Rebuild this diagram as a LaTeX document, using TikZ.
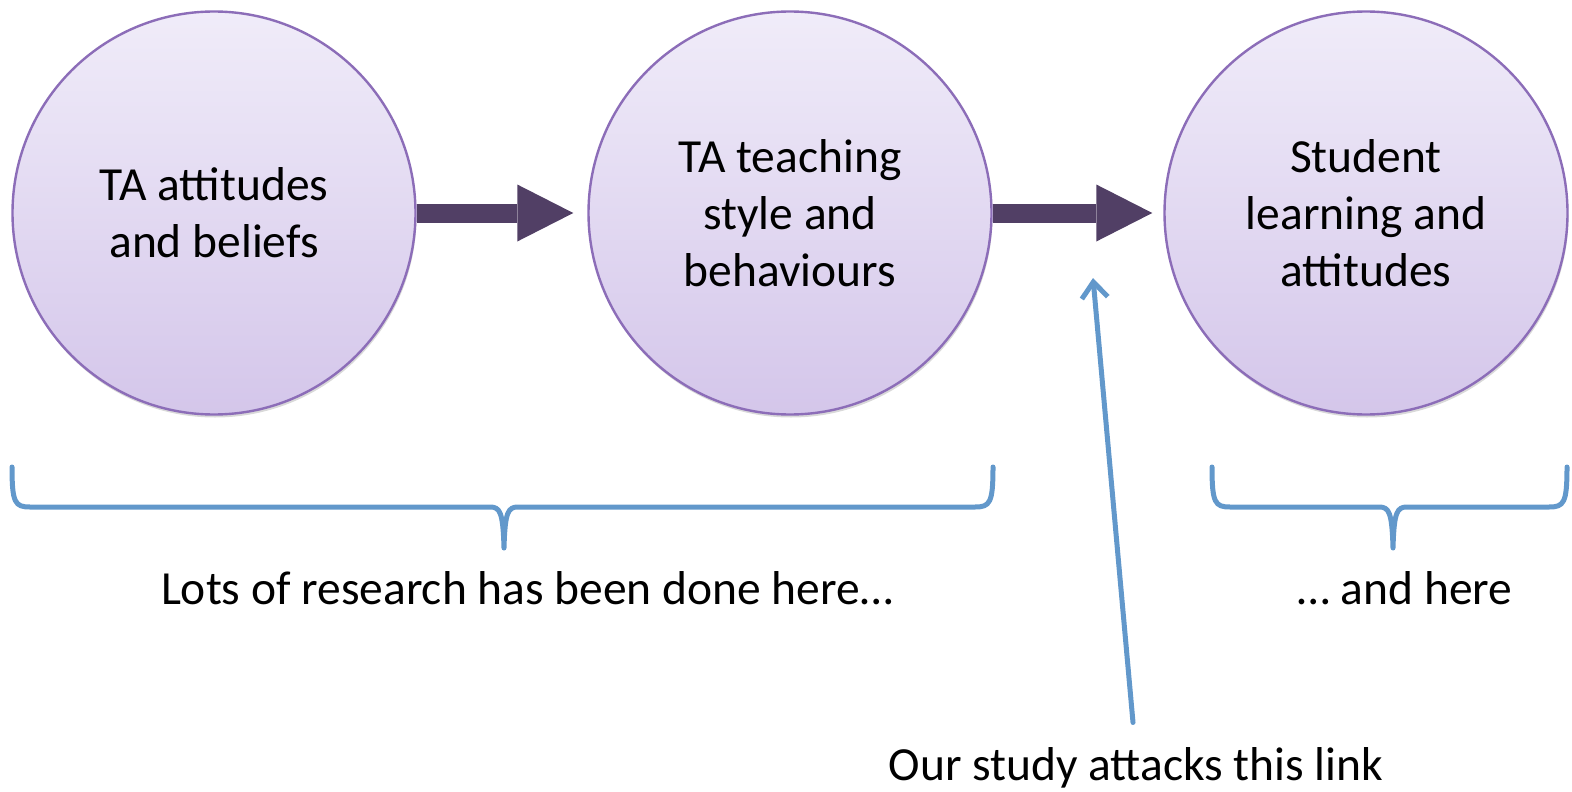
\documentclass[tikz,border=0pt]{standalone}
\usepackage{fontspec}
\setmainfont{Carlito}
\usepackage{tikz}
\usetikzlibrary{arrows.meta,positioning,shadows}
\definecolor{TopicTop}{HTML}{F0ECF9}
\definecolor{TopicBottom}{HTML}{D4C6EA}
\definecolor{TopicEdge}{HTML}{8C6DB8}
\definecolor{FlowPurple}{HTML}{513F65}
\definecolor{BraceBlue}{HTML}{6298CB}

\begin{document}
\begin{tikzpicture}[x=1pt, y=-1pt,
  topic/.style={circle, draw=TopicEdge, line width=2.4pt, top color=TopicTop,
    bottom color=TopicBottom, minimum size=403pt, inner sep=0pt, align=center,
    font=\fontsize{47.5}{57}\selectfont,
    drop shadow={shadow xshift=1pt, shadow yshift=-3pt, opacity=0.3}},
  flow/.style={-{Triangle[length=56pt, width=57pt, line width=0pt]}, line width=19pt, FlowPurple},
  bracket/.style={line width=5pt, BraceBlue, line cap=round, line join=round},
  pointer/.style={-{Straight Barb[length=16pt, width=26pt]}, line width=5pt, BraceBlue, line cap=round},
  note/.style={anchor=base, font=\fontsize{47.5}{57}\selectfont}]
\useasboundingbox (0,0) rectangle (1572,792);

% The three stages
\node[topic] (beliefs) at (214,213) {TA attitudes\\and beliefs};
\node[topic] (teaching) at (790,213) {TA teaching\\style and\\behaviours};
\node[topic] (learning) at (1366,213) {Student\\learning and\\attitudes};

% Block arrows between the stages
\draw[flow] (beliefs.east) -- ([xshift=-14pt]teaching.west);
\draw[flow] (teaching.east) -- ([xshift=-11pt]learning.west);

% Brackets under the circles
\foreach \xl/\xm/\xr in {12/504/993, 1212/1393/1567}
{
  \draw[bracket] (\xl,467) .. controls (\xl,503) and (\xl+3,507) .. (\xl+18,507)
    -- (\xm-14,507) .. controls (\xm-4,507) and (\xm-1,512) .. (\xm,548)
    .. controls (\xm+1,512) and (\xm+4,507) .. (\xm+14,507)
    -- (\xr-18,507) .. controls (\xr-3,507) and (\xr,503) .. (\xr,467);
}

% Labels
\node[note] (lots) at (527,604) {Lots of research has been done here…};
\node[note] (here) at (1405,604) {… and here};
\node[note] (study) at (1136,780) {Our study attacks this link};

% Pointer to the second link
\coordinate (link) at (1093,278);
\draw[pointer] ([xshift=-3pt, yshift=21pt]study.north) -- (link);
\end{tikzpicture}
\end{document}
